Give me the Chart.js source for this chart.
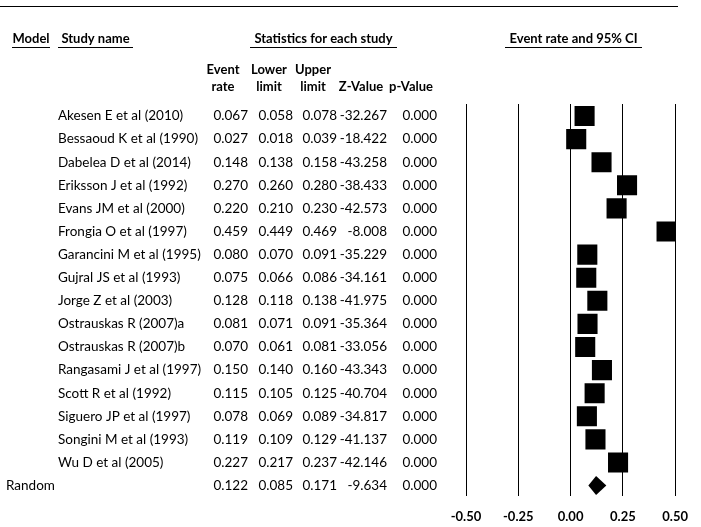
<!DOCTYPE html>
<html lang="en">
<head>
    <title>Forest plot</title>
    <script src="https://cdn.jsdelivr.net/npm/chart.js"></script>
    <style>
        html, body { margin: 0; padding: 0; background: #fff; }
        .chart-container { width: 701px; height: 527px; position: relative; }
        canvas { display: block; }
    </style>
</head>
<body>
    <div class="chart-container">
        <canvas id="myChart" width="701" height="527"></canvas>
    </div>

    <script>
        // study data
        const studies = [
            "Akesen E et al (2010)", "Bessaoud K et al (1990)", "Dabelea D et al (2014)",
            "Eriksson J et al (1992)", "Evans JM et al (2000)", "Frongia O et al (1997)",
            "Garancini M et al (1995)", "Gujral JS et al (1993)", "Jorge Z et al (2003)",
            "Ostrauskas R (2007)a", "Ostrauskas R (2007)b", "Rangasami J et al (1997)",
            "Scott R et al (1992)", "Siguero JP et al (1997)", "Songini M et al (1993)",
            "Wu D et al (2005)"
        ];
        const eventRate = [0.067, 0.027, 0.148, 0.270, 0.220, 0.459, 0.080, 0.075, 0.128, 0.081, 0.070, 0.150, 0.115, 0.078, 0.119, 0.227];
        const lowerLimit = [0.058, 0.018, 0.138, 0.260, 0.210, 0.449, 0.070, 0.066, 0.118, 0.071, 0.061, 0.140, 0.105, 0.069, 0.109, 0.217];
        const upperLimit = [0.078, 0.039, 0.158, 0.280, 0.230, 0.469, 0.091, 0.086, 0.138, 0.091, 0.081, 0.160, 0.125, 0.089, 0.129, 0.237];
        const zValue = [-32.267, -18.422, -43.258, -38.433, -42.573, -8.008, -35.229, -34.161, -41.975, -35.364, -33.056, -43.343, -40.704, -34.817, -41.137, -42.146];
        const pValue = [0.000, 0.000, 0.000, 0.000, 0.000, 0.000, 0.000, 0.000, 0.000, 0.000, 0.000, 0.000, 0.000, 0.000, 0.000, 0.000];

        // random effects summary
        const summaryLabel = "Random";
        const summary = { rate: 0.122, lower: 0.085, upper: 0.171, z: -9.634, p: 0.000 };

        const xTicks = [-0.50, -0.25, 0.00, 0.25, 0.50];

        Chart.defaults.font.family = "Lato, 'Open Sans', sans-serif";
        Chart.defaults.color = "#000";

        const tablePlugin = {
            id: "forestTable",
            beforeDatasetsDraw(chart) {
                const ctx = chart.ctx;
                const xs = chart.scales.x, ys = chart.scales.y;
                ctx.save();
                ctx.strokeStyle = "#000";
                ctx.lineWidth = 1;
                studies.forEach((s, i) => {
                    const y = ys.getPixelForValue(i);
                    ctx.beginPath();
                    ctx.moveTo(xs.getPixelForValue(lowerLimit[i]), y);
                    ctx.lineTo(xs.getPixelForValue(upperLimit[i]), y);
                    ctx.stroke();
                });
                ctx.restore();
            },
            afterDatasetsDraw(chart) {
                const ctx = chart.ctx;
                const xs = chart.scales.x, ys = chart.scales.y;
                const y = ys.getPixelForValue(studies.length);
                const h = 9.5;
                ctx.save();
                ctx.fillStyle = "#000";
                ctx.beginPath();
                ctx.moveTo(xs.getPixelForValue(summary.lower), y);
                ctx.lineTo(xs.getPixelForValue(summary.rate), y - h);
                ctx.lineTo(xs.getPixelForValue(summary.upper), y);
                ctx.lineTo(xs.getPixelForValue(summary.rate), y + h);
                ctx.closePath();
                ctx.fill();
                ctx.restore();
            },
            afterDraw(chart) {
                const ctx = chart.ctx;
                const ys = chart.scales.y;
                ctx.save();
                ctx.fillStyle = "#000";
                ctx.strokeStyle = "#000";

                // top rule
                ctx.lineWidth = 1;
                ctx.beginPath();
                ctx.moveTo(0, 6.5);
                ctx.lineTo(678, 6.5);
                ctx.stroke();

                // underlined headers
                ctx.font = "bold 13px Lato";
                ctx.textBaseline = "middle";
                const headers = [
                    ["Model", 12, 50],
                    ["Study name", 58, 133],
                    ["Statistics for each study", 250, 397],
                    ["Event rate and 95% CI", 505, 642]
                ];
                headers.forEach(([t, x0, x1]) => {
                    ctx.textAlign = "center";
                    ctx.fillText(t, (x0 + x1) / 2, 39);
                    ctx.beginPath();
                    ctx.moveTo(x0, 47.5);
                    ctx.lineTo(x1, 47.5);
                    ctx.stroke();
                });

                // column headers
                const colHeads = [
                    ["Event", "rate", 223],
                    ["Lower", "limit", 269],
                    ["Upper", "limit", 313],
                    ["", "Z-Value", 361],
                    ["", "p-Value", 411]
                ];
                ctx.textAlign = "center";
                colHeads.forEach(([a, b, x]) => {
                    if (a) ctx.fillText(a, x, 70);
                    ctx.fillText(b, x, 87);
                });

                // rows
                ctx.font = "13.5px Lato";
                const cols = [248, 293, 337, 387, 437];
                const drawRow = (label, lx, vals, y) => {
                    ctx.textAlign = "left";
                    ctx.fillText(label, lx, y);
                    ctx.textAlign = "right";
                    vals.forEach((v, k) => ctx.fillText(v.toFixed(3), cols[k], y));
                };
                studies.forEach((s, i) => {
                    drawRow(s, 58, [eventRate[i], lowerLimit[i], upperLimit[i], zValue[i], pValue[i]], ys.getPixelForValue(i));
                });
                drawRow(summaryLabel, 6, [summary.rate, summary.lower, summary.upper, summary.z, summary.p], ys.getPixelForValue(studies.length));
                ctx.restore();
            }
        };

        function createChart() {
            const ctx = document.getElementById("myChart").getContext("2d");
            new Chart(ctx, {
                type: "scatter",
                data: {
                    datasets: [{
                        label: "Event rate",
                        data: studies.map((s, i) => ({ x: eventRate[i], y: i })),
                        pointStyle: "rect",
                        pointRadius: 14.2,
                        pointHoverRadius: 14.2,
                        backgroundColor: "#000",
                        borderWidth: 0
                    }]
                },
                options: {
                    responsive: false,
                    animation: false,
                    events: [],
                    layout: {
                        padding: { left: 466, right: 22, top: 104, bottom: 2 }
                    },
                    plugins: {
                        legend: { display: false },
                        tooltip: { enabled: false }
                    },
                    scales: {
                        x: {
                            type: "linear",
                            min: -0.5,
                            max: 0.5,
                            afterBuildTicks: (axis) => { axis.ticks = xTicks.map(v => ({ value: v })); },
                            afterFit: (axis) => { axis.height = 29; },
                            ticks: {
                                callback: (v) => Number(v).toFixed(2),
                                font: { size: 13, weight: "bold" },
                                color: "#000",
                                padding: 13,
                                maxRotation: 0
                            },
                            grid: { color: "#000", lineWidth: 1, drawTicks: false },
                            border: { display: false }
                        },
                        y: {
                            type: "linear",
                            display: false,
                            reverse: true,
                            min: -0.52,
                            max: 16.45
                        }
                    }
                },
                plugins: [tablePlugin]
            });
        }

        createChart();
    </script>
</body>
</html>
